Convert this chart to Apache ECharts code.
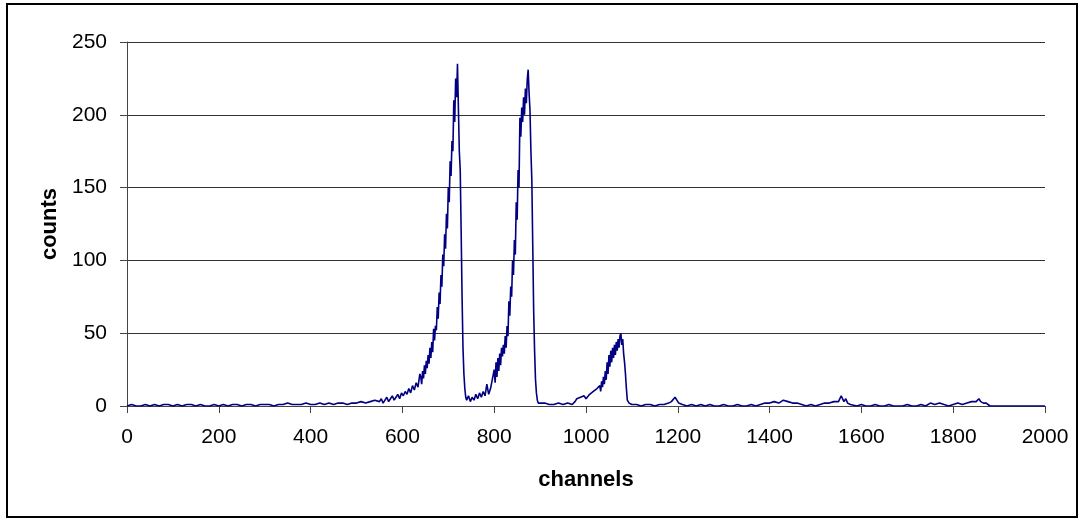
<!DOCTYPE html>
<html>
<head>
<meta charset="utf-8">
<script src="https://cdn.jsdelivr.net/npm/echarts@6/dist/echarts.min.js"></script>
<style>
html,body{margin:0;padding:0;background:#fff;}
#chart{width:1085px;height:523px;}
</style>
</head>
<body>
<div id="chart"></div>
<script>
// Tick labels
const xTicks = [0, 200, 400, 600, 800, 1000, 1200, 1400, 1600, 1800, 2000];
const yTicks = [0, 50, 100, 150, 200, 250];

// Spectrum, as [channel, counts] pairs, by region
const lowBackground = [
  [0,0],[10,1],[20,0],[30,0],[40,1],[50,0],[60,1],[70,0],[80,1],[90,1],
  [100,0],[110,1],[120,0],[130,1],[140,1],[150,0],[160,1],[170,0],[180,0],[190,1],
  [200,0],[210,1],[220,0],[230,1],[240,1],[250,0],[260,1],[270,1],[280,0],[290,1],
  [300,1],[310,1],[320,0],[330,1],[340,1],[350,2],[360,1],[370,1],[380,1],[390,2],
  [400,1],[410,1],[420,2],[430,1],[440,2],[450,1],[460,2],[470,2],[480,1],[490,2],
  [500,2],[510,3],[520,2],[530,3],[540,4],
  [550,3],[554,5],[558,2],[562,4],[566,6],[570,3],[574,5],[578,7],[582,4],[586,6],
  [590,8],[594,5],[598,9],[602,7],[606,10],[610,8],[614,12],[618,9],[622,14],[626,11],
  [630,16],[634,13],[638,22]
];
const peak1 = [
  [640,20],[642,15],[644,24],[646,19],[648,28],[650,22],[652,31],[654,26],[656,35],[658,29],
  [660,40],[662,33],[664,44],[666,37],[668,53],[670,45],[672,55],[674,52],[676,68],[678,60],
  [680,78],[682,70],[684,90],[686,82],[688,104],[690,96],[692,118],[694,108],[696,132],[698,122],
  [700,150],[702,140],[704,168],[706,158],[708,182],[710,175],[712,210],[714,195],[716,225],[718,212],
  [720,235],[722,205],[724,175],[726,162],[728,120],[730,75],[732,40],[734,22],[736,12],[738,6]
];
const valley = [
  [740,4],[744,7],[748,3],[752,6],[756,4],[760,8],[764,5],[768,9],[772,6],[776,10],
  [780,7],[784,15],[788,8],[792,12],[796,12]
];
const peak2 = [
  [800,25],[802,16],[804,30],[806,20],[808,33],[810,24],[812,36],[814,28],[816,40],[818,34],
  [820,42],[822,36],[824,48],[826,40],[828,55],[830,48],[832,72],[834,62],[836,82],[838,75],
  [840,100],[842,90],[844,114],[846,104],[848,140],[850,128],[852,162],[854,150],[856,198],[858,185],
  [860,205],[862,195],[864,212],[866,200],[868,218],[870,208],[872,224],[874,231],[876,215],[878,203],
  [880,175],[882,155],[884,110],[886,65],[888,38],[890,18],[892,9],[894,4],[896,2],[900,1]
];
const peak3 = [
  [910,2],[920,1],[930,1],[940,2],[950,1],[960,2],[970,1],[976,3],[980,5],[984,4],
  [988,6],[992,5],[996,7],[1000,5],[1004,6],[1008,8],[1012,7],[1016,10],[1020,9],[1024,12],
  [1028,11],[1030,14],[1032,10],[1034,17],[1036,13],[1038,20],[1040,15],[1042,24],[1044,18],[1046,30],
  [1048,22],[1050,35],[1052,27],[1054,38],[1056,30],[1058,40],[1060,33],[1062,42],[1064,35],[1066,44],
  [1068,38],[1070,46],[1072,40],[1074,48],[1076,50],[1078,42],[1080,46],[1082,36],[1084,30],[1086,22],
  [1088,12],[1090,4],[1094,2],[1100,1]
];
const highTail = [
  [1110,1],[1120,0],[1130,1],[1140,1],[1150,0],[1160,1],[1170,1],[1180,2],[1186,3],[1190,4],
  [1194,6],[1198,4],[1202,2],[1210,1],[1220,0],[1230,1],[1240,0],[1250,1],[1260,0],[1270,1],
  [1280,0],[1290,0],[1300,1],[1310,0],[1320,0],[1330,1],[1340,0],[1350,0],[1360,1],[1370,0],
  [1380,1],[1390,2],[1400,2],[1410,3],[1420,2],[1430,4],[1440,3],[1450,2],[1460,2],[1470,1],
  [1480,0],[1490,1],[1500,0],[1510,1],[1520,2],[1530,2],[1540,3],[1550,3],[1556,7],[1562,3],
  [1566,5],[1570,2],[1576,1],[1580,0],[1590,0],[1600,1],[1610,0],[1620,0],[1630,1],[1640,0],
  [1650,0],[1660,1],[1670,0],[1680,0],[1690,0],[1700,1],[1710,0],[1720,0],[1730,1],[1740,0],
  [1750,2],[1760,1],[1770,2],[1780,1],[1790,0],[1800,1],[1810,2],[1820,1],[1830,2],[1840,3],
  [1850,3],[1856,5],[1860,3],[1866,2],[1872,2],[1880,0],[1890,0],[1900,0],[1910,0],[1920,0],
  [1930,0],[1940,0],[1950,0],[1960,0],[1970,0],[1980,0],[1990,0],[2000,0]
];

const seriesData = [].concat(lowBackground, peak1, valley, peak2, peak3, highTail);

const chart = echarts.init(document.getElementById('chart'), null, {renderer: 'canvas'});
const labelFont = 'Liberation Sans, Arial, sans-serif';
chart.setOption({
  animation: false,
  backgroundColor: '#ffffff',
  graphic: [{
    type: 'rect',
    shape: {x: 7, y: 4, width: 1070, height: 513},
    style: {fill: 'none', stroke: '#000', lineWidth: 2},
    z: -10
  }],
  grid: {left: 127, right: 40, top: 42, bottom: 117, containLabel: false},
  xAxis: {
    type: 'value',
    min: xTicks[0], max: xTicks[xTicks.length - 1], interval: 200,
    name: 'channels', nameLocation: 'middle', nameGap: 63,
    nameTextStyle: {fontFamily: labelFont, fontSize: 22, fontWeight: 'bold', color: '#000'},
    axisLine: {show: true, lineStyle: {color: '#444', width: 1}},
    axisTick: {show: true, length: 7, lineStyle: {color: '#444'}},
    axisLabel: {margin: 21, fontFamily: labelFont, fontSize: 21, color: '#000',
      formatter: function (v) { return String(v); }},
    splitLine: {show: false}
  },
  yAxis: {
    type: 'value',
    min: yTicks[0], max: yTicks[yTicks.length - 1], interval: 50,
    name: 'counts', nameLocation: 'middle', nameGap: 66,
    nameTextStyle: {fontFamily: labelFont, fontSize: 22, fontWeight: 'bold', color: '#000'},
    axisLine: {show: true, lineStyle: {color: '#444', width: 1}},
    axisTick: {show: true, length: 7, lineStyle: {color: '#444'}},
    axisLabel: {margin: 20, fontFamily: labelFont, fontSize: 21, color: '#000',
      formatter: function (v) { return String(v); }},
    splitLine: {show: true, lineStyle: {color: '#333', width: 1}}
  },
  series: [{
    type: 'line',
    data: seriesData,
    showSymbol: false,
    lineStyle: {color: '#000080', width: 1.6},
    itemStyle: {color: '#000080'}
  }]
});
</script>
</body>
</html>
